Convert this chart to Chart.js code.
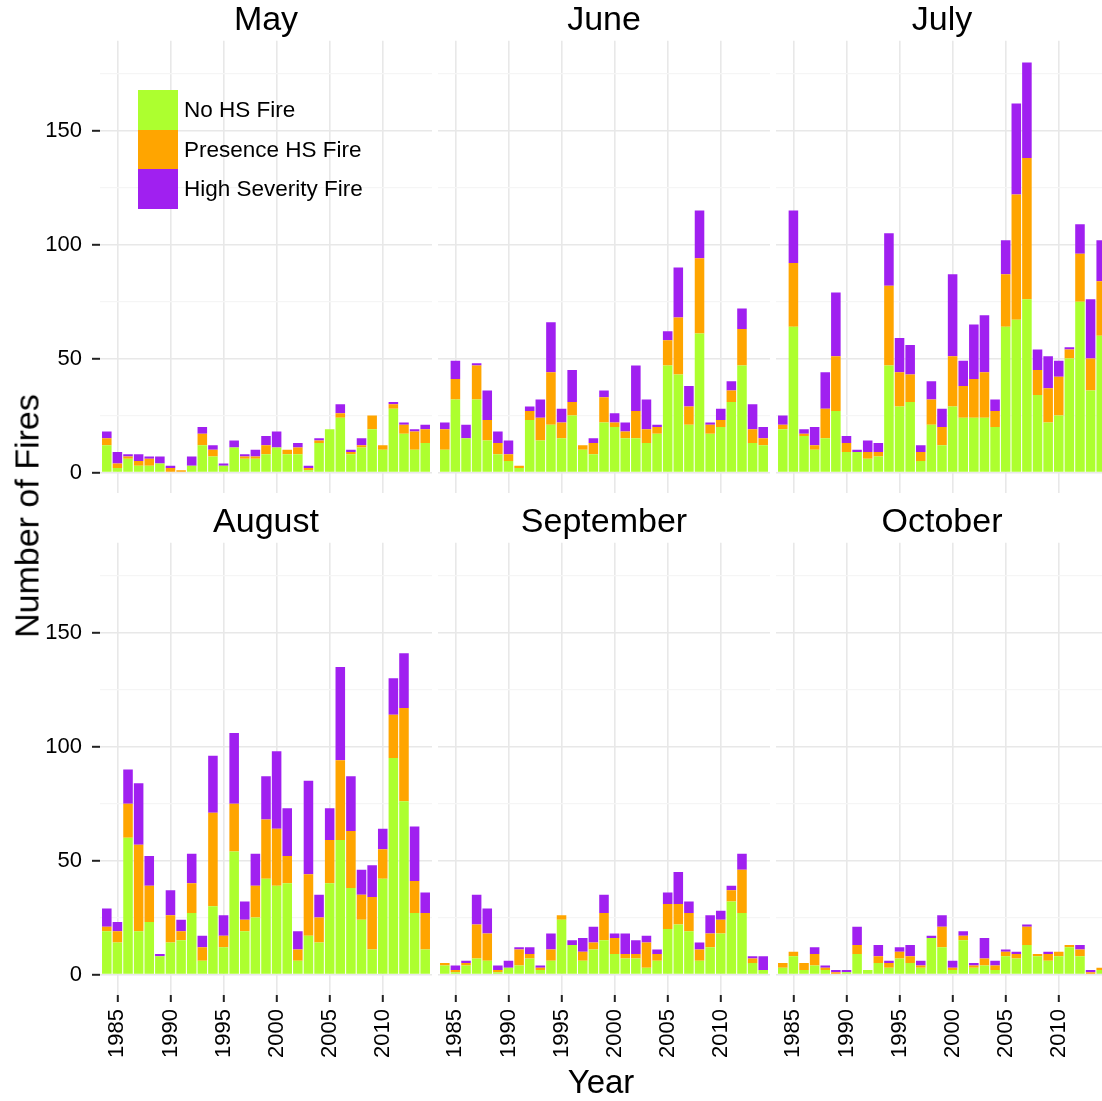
<!DOCTYPE html>
<html>
<head>
    <title>Number of Fires by Month</title>
    <meta charset="UTF-8">
    <script src="https://cdn.jsdelivr.net/npm/chart.js@4"></script>
    <style>
        body {
            margin: 0;
            background-color: #fff;
            font-family: "Liberation Sans", Arial, Helvetica, sans-serif;
        }
        #page {
            position: relative;
            width: 1102px;
            height: 1101px;
            overflow: hidden;
        }
        #page canvas { position: absolute; }
        .legend { position: absolute; left: 138px; top: 90px; }
        .legend div { height: 39.7px; display: flex; align-items: center; font-size: 22.5px; color: #000; }
        .legend span { display: inline-block; width: 40px; height: 39.7px; margin-right: 6px; }
        .axis-title { position: absolute; font-size: 33px; color: #000; white-space: nowrap; transform: translate(-50%, -50%); }
    </style>
</head>
<body>
<div id="page">
    <canvas id="may"></canvas>
    <canvas id="june"></canvas>
    <canvas id="july"></canvas>
    <canvas id="august"></canvas>
    <canvas id="september"></canvas>
    <canvas id="october"></canvas>
    <div class="legend" id="legend"></div>
    <div class="axis-title" style="left:27px; top:516px; font-size:34px; transform: translate(-50%, -50%) rotate(-90deg);">Number of Fires</div>
    <div class="axis-title" style="left:601px; top:1082px;">Year</div>
</div>

<script>
    // data: No HS / Presence HS / High Severity, 1984-2014
    const years = [1984, 1985, 1986, 1987, 1988, 1989, 1990, 1991, 1992, 1993, 1994, 1995, 1996, 1997, 1998, 1999,
                   2000, 2001, 2002, 2003, 2004, 2005, 2006, 2007, 2008, 2009, 2010, 2011, 2012, 2013, 2014];

    const noHsMay       = [12, 2, 6, 3, 3, 4, 0, 0, 3, 12, 7, 3, 11, 6, 6, 8, 11, 8, 8, 1, 13, 19, 24, 8, 11, 19, 10, 28, 17, 10, 13];
    const presenceHsMay = [3, 2, 1, 2, 3, 0, 2, 1, 0, 5, 3, 0, 0, 1, 1, 4, 0, 2, 3, 1, 1, 0, 2, 1, 1, 6, 2, 2, 4, 8, 6];
    const highSevMay    = [3, 5, 1, 3, 1, 3, 1, 0, 4, 3, 2, 1, 3, 1, 3, 4, 7, 0, 2, 1, 1, 0, 4, 1, 3, 0, 0, 1, 1, 1, 2];

    const noHsJune       = [10, 32, 15, 32, 14, 8, 5, 2, 23, 14, 21, 15, 25, 10, 8, 22, 20, 15, 15, 13, 17, 47, 43, 21, 61, 17, 20, 31, 47, 13, 12];
    const presenceHsJune = [9, 9, 0, 15, 9, 5, 3, 1, 4, 10, 23, 7, 6, 2, 5, 11, 2, 3, 12, 6, 3, 11, 25, 8, 33, 4, 3, 5, 16, 6, 3];
    const highSevJune    = [3, 8, 6, 1, 13, 5, 6, 0, 2, 8, 22, 6, 14, 0, 2, 3, 4, 4, 20, 13, 1, 4, 22, 9, 21, 1, 5, 4, 9, 11, 5];

    const noHsJuly       = [19, 64, 16, 10, 15, 27, 9, 9, 6, 7, 47, 29, 31, 5, 21, 12, 29, 24, 24, 24, 20, 64, 67, 76, 34, 22, 25, 50, 75, 36, 60];
    const presenceHsJuly = [2, 28, 1, 2, 13, 24, 4, 0, 3, 2, 35, 15, 12, 4, 11, 8, 22, 14, 17, 20, 7, 23, 55, 62, 11, 15, 17, 4, 21, 14, 24];
    const highSevJuly    = [4, 23, 2, 8, 16, 28, 3, 1, 5, 4, 23, 15, 13, 3, 8, 8, 36, 11, 24, 25, 5, 15, 40, 42, 9, 14, 7, 1, 13, 26, 18];

    const noHsAugust       = [19, 14, 60, 19, 23, 8, 14, 15, 27, 6, 30, 12, 54, 19, 25, 42, 39, 40, 6, 17, 14, 40, 59, 38, 24, 11, 42, 95, 76, 27, 11];
    const presenceHsAugust = [2, 5, 15, 38, 16, 0, 12, 4, 13, 6, 41, 5, 21, 5, 14, 26, 25, 12, 5, 27, 11, 19, 35, 25, 11, 23, 13, 19, 41, 14, 16];
    const highSevAugust    = [8, 4, 15, 27, 13, 1, 11, 5, 13, 5, 25, 9, 31, 8, 14, 19, 34, 21, 8, 41, 10, 14, 41, 24, 11, 14, 9, 16, 24, 24, 9];

    const noHsSeptember       = [4, 1, 4, 7, 6, 1, 3, 4, 7, 2, 6, 24, 13, 6, 11, 15, 9, 7, 7, 3, 6, 20, 22, 19, 6, 12, 18, 32, 27, 5, 2];
    const presenceHsSeptember = [1, 1, 1, 15, 12, 1, 0, 7, 2, 1, 5, 2, 0, 4, 3, 12, 7, 2, 2, 11, 3, 11, 9, 8, 5, 6, 6, 5, 19, 2, 0];
    const highSevSeptember    = [0, 2, 1, 13, 11, 2, 3, 1, 3, 1, 7, 0, 2, 6, 7, 8, 2, 9, 6, 3, 2, 5, 14, 5, 3, 8, 4, 2, 7, 1, 6];

    const noHsOctober       = [3, 8, 2, 4, 2, 0, 1, 9, 2, 5, 3, 7, 5, 3, 16, 12, 2, 15, 3, 4, 2, 8, 7, 13, 8, 6, 8, 12, 8, 0, 2];
    const presenceHsOctober = [2, 2, 3, 5, 1, 1, 0, 4, 0, 3, 2, 3, 3, 1, 0, 9, 1, 2, 1, 3, 2, 2, 2, 8, 1, 3, 2, 1, 3, 1, 1];
    const highSevOctober    = [0, 0, 0, 3, 1, 1, 1, 8, 0, 5, 1, 2, 5, 2, 1, 5, 3, 2, 1, 9, 2, 1, 1, 1, 0, 1, 0, 0, 2, 1, 0];

    const seriesNames = ['No HS Fire', 'Presence HS Fire', 'High Severity Fire'];
    const seriesColors = ['#ADFF2F', '#FFA500', '#A020F0'];
    const xTickYears = [1985, 1990, 1995, 2000, 2005, 2010];
    const yGridValues = [0, 25, 50, 75, 100, 125, 150, 175];
    const yLabelValues = [0, 50, 100, 150];

    const FONT = '"Liberation Sans", Arial, Helvetica, sans-serif';

    // panel layout: 3 columns x 2 rows
    const colLeft = [0, 438, 776];
    const colWidth = [432, 332, 332];
    const colAxisW = [100, 0, 0];
    const rowTop = [0, 500];
    const rowHeight = [493, 565];
    const rowAxisH = [0, 70];
    const rowTitlePad = [0, 2];

    // keep the plot area fixed: no extra room for overhanging labels
    function noPadding(ax) {
        ax.paddingTop = 0;
        ax.paddingBottom = 0;
        ax.paddingLeft = 0;
        ax.paddingRight = 0;
    }

    function makePanel(id, title, col, row, noHs, presenceHs, highSev) {
        const canvas = document.getElementById(id);
        canvas.width = colWidth[col];
        canvas.height = rowHeight[row];
        canvas.style.left = colLeft[col] + 'px';
        canvas.style.top = rowTop[row] + 'px';

        const values = [noHs, presenceHs, highSev];
        const isMajor = v => yLabelValues.includes(v);

        return new Chart(canvas.getContext('2d'), {
            type: 'bar',
            data: {
                labels: years,
                datasets: values.map((v, i) => ({
                    label: seriesNames[i],
                    data: v,
                    backgroundColor: seriesColors[i],
                    borderWidth: 0,
                    barPercentage: 0.9,
                    categoryPercentage: 1.0
                }))
            },
            options: {
                responsive: false,
                animation: false,
                layout: { padding: 0, autoPadding: false },
                plugins: {
                    legend: { display: false },
                    tooltip: { enabled: false },
                    title: {
                        display: true,
                        text: title,
                        fullSize: false,
                        color: '#000',
                        font: { family: FONT, size: 34, weight: 'normal', lineHeight: 1.2 },
                        padding: { top: rowTitlePad[row], bottom: 0 }
                    }
                },
                scales: {
                    x: {
                        type: 'linear',
                        stacked: true,
                        offset: false,
                        min: 1983.36,
                        max: 2014.64,
                        afterBuildTicks: ax => { ax.ticks = xTickYears.map(v => ({ value: v })); },
                        afterFit: ax => { ax.height = rowAxisH[row]; noPadding(ax); },
                        border: { display: false },
                        grid: {
                            offset: false,
                            color: '#e8e8e8',
                            lineWidth: 1.6,
                            drawTicks: row === 1,
                            tickLength: 7,
                            tickColor: '#222',
                            tickWidth: 2
                        },
                        ticks: {
                            display: row === 1,
                            autoSkip: false,
                            minRotation: 90,
                            maxRotation: 90,
                            padding: 7,
                            color: '#000',
                            font: { family: FONT, size: 22 },
                            callback: v => String(v)
                        }
                    },
                    y: {
                        stacked: true,
                        min: -9,
                        max: 189.5,
                        afterBuildTicks: ax => { ax.ticks = yGridValues.map(v => ({ value: v })); },
                        afterFit: ax => { ax.width = colAxisW[col]; noPadding(ax); },
                        border: { display: false },
                        grid: {
                            color: ctx => isMajor(ctx.tick.value) ? '#e8e8e8' : '#f5f5f5',
                            lineWidth: ctx => isMajor(ctx.tick.value) ? 1.6 : 1.3,
                            drawTicks: col === 0,
                            tickLength: 8,
                            tickColor: ctx => isMajor(ctx.tick.value) ? '#222' : 'rgba(0,0,0,0)',
                            tickWidth: 2
                        },
                        ticks: {
                            display: col === 0,
                            padding: 10,
                            color: '#000',
                            font: { family: FONT, size: 22 },
                            callback: v => isMajor(v) ? String(v) : ''
                        }
                    }
                }
            }
        });
    }

    makePanel('may', 'May', 0, 0, noHsMay, presenceHsMay, highSevMay);
    makePanel('june', 'June', 1, 0, noHsJune, presenceHsJune, highSevJune);
    makePanel('july', 'July', 2, 0, noHsJuly, presenceHsJuly, highSevJuly);
    makePanel('august', 'August', 0, 1, noHsAugust, presenceHsAugust, highSevAugust);
    makePanel('september', 'September', 1, 1, noHsSeptember, presenceHsSeptember, highSevSeptember);
    makePanel('october', 'October', 2, 1, noHsOctober, presenceHsOctober, highSevOctober);

    // legend inside the May panel
    const legend = document.getElementById('legend');
    seriesNames.forEach((name, i) => {
        const row = document.createElement('div');
        const box = document.createElement('span');
        box.style.backgroundColor = seriesColors[i];
        row.appendChild(box);
        row.appendChild(document.createTextNode(name));
        legend.appendChild(row);
    });
</script>
</body>
</html>
